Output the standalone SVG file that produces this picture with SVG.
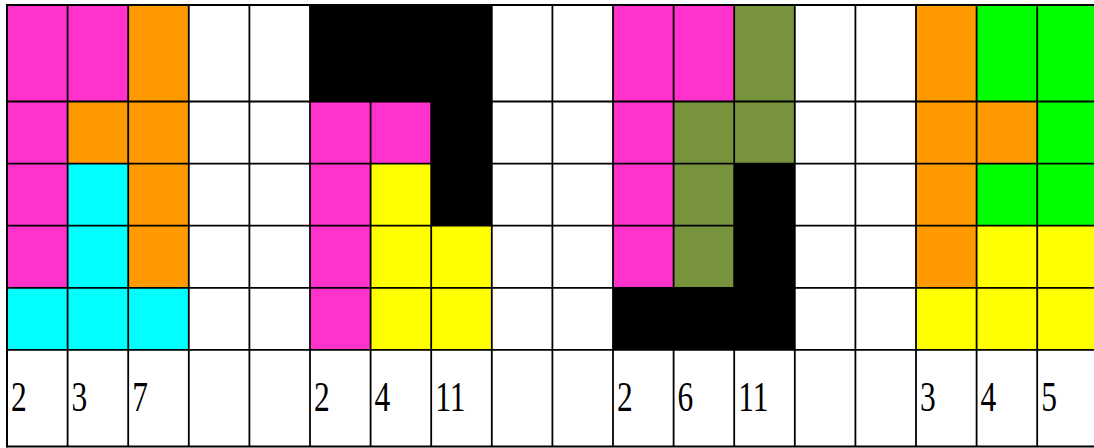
<svg xmlns="http://www.w3.org/2000/svg" width="1094" height="448" viewBox="0 0 1094 448">
<style>
.M{fill:#FF33CC}.O{fill:#FF9900}.C{fill:#00FFFF}.Y{fill:#FFFF00}.G{fill:#00FF00}.V{fill:#77933C}.K{fill:#000000}
.g line{stroke:#000;stroke-width:1.8}
.t{font-family:"Liberation Serif","DejaVu Serif",serif;font-size:42px;fill:#000}
</style>
<rect width="1094" height="448" fill="#fff"/>
<g id="block1">
<rect class="M" x="7" y="5" width="60.6" height="96.5"/><rect class="M" x="67.6" y="5" width="60.6" height="96.5"/><rect class="O" x="128.2" y="5" width="60.6" height="96.5"/>
<rect class="M" x="7" y="101.5" width="60.6" height="62.1"/><rect class="O" x="67.6" y="101.5" width="60.6" height="62.1"/><rect class="O" x="128.2" y="101.5" width="60.6" height="62.1"/>
<rect class="M" x="7" y="163.6" width="60.6" height="62.1"/><rect class="C" x="67.6" y="163.6" width="60.6" height="62.1"/><rect class="O" x="128.2" y="163.6" width="60.6" height="62.1"/>
<rect class="M" x="7" y="225.7" width="60.6" height="62.1"/><rect class="C" x="67.6" y="225.7" width="60.6" height="62.1"/><rect class="O" x="128.2" y="225.7" width="60.6" height="62.1"/>
<rect class="C" x="7" y="287.8" width="181.8" height="62.1"/>
</g>
<g id="block2">
<rect class="K" x="310" y="5" width="181.8" height="96.5"/>
<rect class="M" x="310" y="101.5" width="121.2" height="62.1"/><rect class="K" x="431.2" y="101.5" width="60.6" height="124.2"/>
<rect class="M" x="310" y="163.6" width="60.6" height="186.3"/><rect class="Y" x="370.6" y="163.6" width="60.6" height="62.1"/>
<rect class="Y" x="370.6" y="225.7" width="121.2" height="124.2"/>
</g>
<g id="block3">
<rect class="M" x="613" y="5" width="121.2" height="96.5"/><rect class="V" x="734.2" y="5" width="60.6" height="96.5"/>
<rect class="M" x="613" y="101.5" width="60.6" height="186.3"/><rect class="V" x="673.6" y="101.5" width="121.2" height="62.1"/>
<rect class="V" x="673.6" y="163.6" width="60.6" height="124.2"/><rect class="K" x="734.2" y="163.6" width="60.6" height="124.2"/>
<rect class="K" x="613" y="287.8" width="181.8" height="62.1"/>
</g>
<g id="block4">
<rect class="O" x="916" y="5" width="60.6" height="96.5"/><rect class="G" x="976.6" y="5" width="121.2" height="96.5"/>
<rect class="O" x="916" y="101.5" width="121.2" height="62.1"/><rect class="G" x="1037.2" y="101.5" width="60.6" height="62.1"/>
<rect class="O" x="916" y="163.6" width="60.6" height="124.2"/><rect class="G" x="976.6" y="163.6" width="121.2" height="62.1"/>
<rect class="Y" x="976.6" y="225.7" width="121.2" height="62.1"/>
<rect class="Y" x="916" y="287.8" width="181.8" height="62.1"/>
</g>
<g id="grid" class="g">
<line x1="7" y1="5" x2="1094" y2="5" style="stroke-width:2"/>
<line x1="7" y1="101.5" x2="1094" y2="101.5"/>
<line x1="7" y1="163.6" x2="1094" y2="163.6"/>
<line x1="7" y1="225.7" x2="1094" y2="225.7"/>
<line x1="7" y1="287.8" x2="1094" y2="287.8"/>
<line x1="7" y1="349.9" x2="1094" y2="349.9"/>
<line x1="7" y1="446.5" x2="1094" y2="446.5" style="stroke-width:2"/>
<line x1="7" y1="4" x2="7" y2="447.5" style="stroke-width:2"/>
<line x1="67.6" y1="5" x2="67.6" y2="446.5"/>
<line x1="128.2" y1="5" x2="128.2" y2="446.5"/>
<line x1="188.8" y1="5" x2="188.8" y2="446.5"/>
<line x1="249.4" y1="5" x2="249.4" y2="446.5"/>
<line x1="310" y1="5" x2="310" y2="446.5"/>
<line x1="370.6" y1="5" x2="370.6" y2="446.5"/>
<line x1="431.2" y1="5" x2="431.2" y2="446.5"/>
<line x1="491.8" y1="5" x2="491.8" y2="446.5"/>
<line x1="552.4" y1="5" x2="552.4" y2="446.5"/>
<line x1="613" y1="5" x2="613" y2="446.5"/>
<line x1="673.6" y1="5" x2="673.6" y2="446.5"/>
<line x1="734.2" y1="5" x2="734.2" y2="446.5"/>
<line x1="794.8" y1="5" x2="794.8" y2="446.5"/>
<line x1="855.4" y1="5" x2="855.4" y2="446.5"/>
<line x1="916" y1="5" x2="916" y2="446.5"/>
<line x1="976.6" y1="5" x2="976.6" y2="446.5"/>
<line x1="1037.2" y1="5" x2="1037.2" y2="446.5"/>
</g>
<g id="labels" class="t">
<text transform="translate(11,411) scale(0.75,1)">2</text>
<text transform="translate(71.6,411) scale(0.75,1)">3</text>
<text transform="translate(132.2,411) scale(0.75,1)">7</text>
<text transform="translate(314,411) scale(0.75,1)">2</text>
<text transform="translate(374.6,411) scale(0.75,1)">4</text>
<text transform="translate(435.2,411) scale(0.75,1)">11</text>
<text transform="translate(617,411) scale(0.75,1)">2</text>
<text transform="translate(677.6,411) scale(0.75,1)">6</text>
<text transform="translate(738.2,411) scale(0.75,1)">11</text>
<text transform="translate(920,411) scale(0.75,1)">3</text>
<text transform="translate(980.6,411) scale(0.75,1)">4</text>
<text transform="translate(1041.2,411) scale(0.75,1)">5</text>
</g>
</svg>
